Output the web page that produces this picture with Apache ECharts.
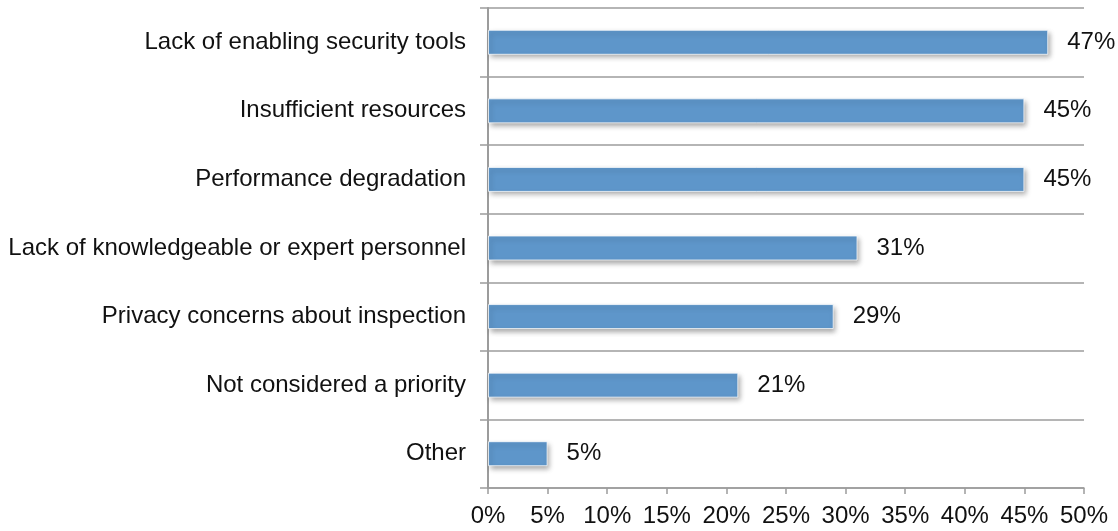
<!DOCTYPE html>
<html>
<head>
<meta charset="utf-8">
<style>
  html, body { margin: 0; padding: 0; background: #ffffff; }
  #chart { width: 1118px; height: 531px; }
</style>
<script src="https://cdn.jsdelivr.net/npm/echarts@6/dist/echarts.min.js"></script>
</head>
<body>
<div id="chart"></div>
<script>
// Reasons given, top to bottom
const categories = [
  'Lack of enabling security tools',
  'Insufficient resources',
  'Performance degradation',
  'Lack of knowledgeable or expert personnel',
  'Privacy concerns about inspection',
  'Not considered a priority',
  'Other'
];
// Share of respondents (%)
const values = [47, 45, 45, 31, 29, 21, 5];
// Percentage scale
const axisMin = 0;
const axisMax = 50;
const axisStep = 5;

const lineColor = '#9c9c9c';
const textColor = '#111111';
const fontFamily = '"Liberation Sans", Arial, Helvetica, sans-serif';

const chart = echarts.init(document.getElementById('chart'), null, { renderer: 'canvas' });
chart.setOption({
  animation: false,
  backgroundColor: '#ffffff',
  grid: { left: 488, right: 34, top: 8, bottom: 43, containLabel: false },
  xAxis: {
    type: 'value',
    min: axisMin,
    max: axisMax,
    interval: axisStep,
    axisLine: { show: true, lineStyle: { color: lineColor, width: 1.5 } },
    axisTick: { show: true, length: 6, lineStyle: { color: lineColor, width: 1.5 } },
    splitLine: { show: false },
    axisLabel: {
      formatter: '{value}%',
      color: textColor,
      fontSize: 24,
      fontFamily: fontFamily,
      margin: 16
    }
  },
  yAxis: {
    type: 'category',
    inverse: true,
    data: categories,
    axisLine: { show: true, lineStyle: { color: lineColor, width: 2 } },
    axisTick: { show: true, length: 8, lineStyle: { color: lineColor, width: 1.5 } },
    splitLine: { show: true, lineStyle: { color: lineColor, width: 1.5 } },
    axisLabel: {
      color: textColor,
      fontSize: 24,
      fontFamily: fontFamily,
      margin: 22
    }
  },
  series: [{
    type: 'bar',
    data: values,
    barWidth: 25,
    itemStyle: {
      color: '#5e96ca',
      borderColor: 'rgba(255,255,255,0.75)',
      borderWidth: 1,
      shadowColor: 'rgba(0,0,0,0.35)',
      shadowBlur: 5,
      shadowOffsetX: 2,
      shadowOffsetY: 3
    },
    label: {
      show: true,
      position: 'right',
      distance: 19,
      formatter: '{c}%',
      color: textColor,
      fontSize: 24,
      fontFamily: fontFamily
    }
  }]
});
</script>
</body>
</html>
